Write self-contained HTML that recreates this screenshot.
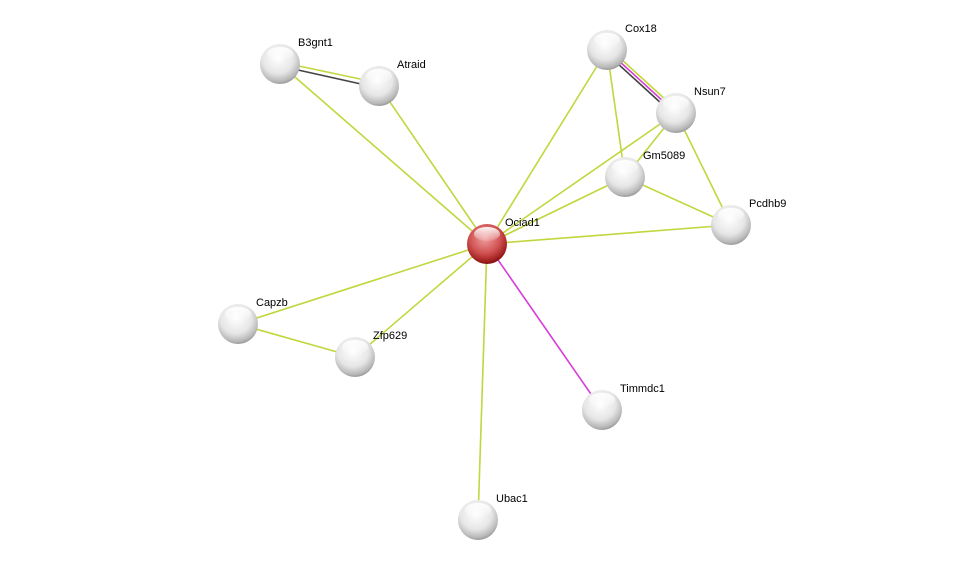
<!DOCTYPE html>
<html><head><meta charset="utf-8"><style>
html,body{margin:0;padding:0;background:#fff;}
svg{display:block;}
text{font-family:"Liberation Sans",sans-serif;font-size:11px;fill:#000;}
</style></head><body>
<svg width="976" height="565" viewBox="0 0 976 565" xmlns="http://www.w3.org/2000/svg">
<defs>
<radialGradient id="g" cx="45%" cy="35%" r="65%">
<stop offset="0" stop-color="#ffffff"/><stop offset="0.6" stop-color="#e6e6e6"/><stop offset="0.9" stop-color="#b8b8b8"/><stop offset="1" stop-color="#9a9a9a"/>
</radialGradient>
<radialGradient id="r" cx="45%" cy="35%" r="65%">
<stop offset="0" stop-color="#f0a0a0"/><stop offset="0.6" stop-color="#d05050"/><stop offset="0.9" stop-color="#a02020"/><stop offset="1" stop-color="#801010"/>
</radialGradient>
<linearGradient id="hl" x1="0" y1="0" x2="0" y2="1">
<stop offset="0" stop-color="#fff" stop-opacity="0.95"/><stop offset="1" stop-color="#fff" stop-opacity="0.1"/>
</linearGradient>
</defs>
<g stroke="#c2d63e" stroke-width="1.6" fill="none">
<line x1="487" y1="244" x2="280" y2="64"/>
<line x1="487" y1="244" x2="379" y2="86"/>
<line x1="487" y1="244" x2="607" y2="50"/>
<line x1="487" y1="244" x2="676" y2="113"/>
<line x1="487" y1="244" x2="625" y2="177"/>
<line x1="487" y1="244" x2="731" y2="225"/>
<line x1="487" y1="244" x2="238" y2="324"/>
<line x1="487" y1="244" x2="355" y2="357"/>
<line x1="487" y1="244" x2="478" y2="520"/>
<line x1="607" y1="50" x2="625" y2="177"/>
<line x1="676" y1="113" x2="625" y2="177"/>
<line x1="676" y1="113" x2="731" y2="225"/>
<line x1="625" y1="177" x2="731" y2="225"/>
<line x1="238" y1="324" x2="355" y2="357"/>
<line x1="280" y1="62" x2="379" y2="83"/>
<line x1="609" y1="48" x2="678" y2="111"/>
</g>
<line x1="280" y1="66" x2="379" y2="88" stroke="#444" stroke-width="1.6"/>
<line x1="605" y1="52" x2="674" y2="115" stroke="#444" stroke-width="1.6"/>
<line x1="607" y1="50" x2="676" y2="113" stroke="#d63cd6" stroke-width="1.6"/>
<line x1="487" y1="244" x2="602" y2="410" stroke="#d63cd6" stroke-width="1.6"/>
<g>
<circle cx="280" cy="64" r="20" fill="url(#g)"/>
<circle cx="379" cy="86" r="20" fill="url(#g)"/>
<circle cx="607" cy="50" r="20" fill="url(#g)"/>
<circle cx="676" cy="113" r="20" fill="url(#g)"/>
<circle cx="625" cy="177" r="20" fill="url(#g)"/>
<circle cx="731" cy="225" r="20" fill="url(#g)"/>
<circle cx="238" cy="324" r="20" fill="url(#g)"/>
<circle cx="355" cy="357" r="20" fill="url(#g)"/>
<circle cx="602" cy="410" r="20" fill="url(#g)"/>
<circle cx="478" cy="520" r="20" fill="url(#g)"/>
<circle cx="487" cy="244" r="20" fill="url(#r)"/>
</g>
<g fill="url(#hl)">
<ellipse cx="280" cy="54" rx="13" ry="7"/>
<ellipse cx="379" cy="76" rx="13" ry="7"/>
<ellipse cx="607" cy="40" rx="13" ry="7"/>
<ellipse cx="676" cy="103" rx="13" ry="7"/>
<ellipse cx="625" cy="167" rx="13" ry="7"/>
<ellipse cx="731" cy="215" rx="13" ry="7"/>
<ellipse cx="238" cy="314" rx="13" ry="7"/>
<ellipse cx="355" cy="347" rx="13" ry="7"/>
<ellipse cx="602" cy="400" rx="13" ry="7"/>
<ellipse cx="478" cy="510" rx="13" ry="7"/>
<ellipse cx="487" cy="234" rx="13" ry="7"/>
</g>
<text x="298" y="46">B3gnt1</text>
<text x="397" y="68">Atraid</text>
<text x="625" y="32">Cox18</text>
<text x="694" y="95">Nsun7</text>
<text x="643" y="159">Gm5089</text>
<text x="749" y="207">Pcdhb9</text>
<text x="505" y="226">Ociad1</text>
<text x="256" y="306">Capzb</text>
<text x="373" y="339">Zfp629</text>
<text x="620" y="392">Timmdc1</text>
<text x="496" y="502">Ubac1</text>
</svg>
</body></html>
